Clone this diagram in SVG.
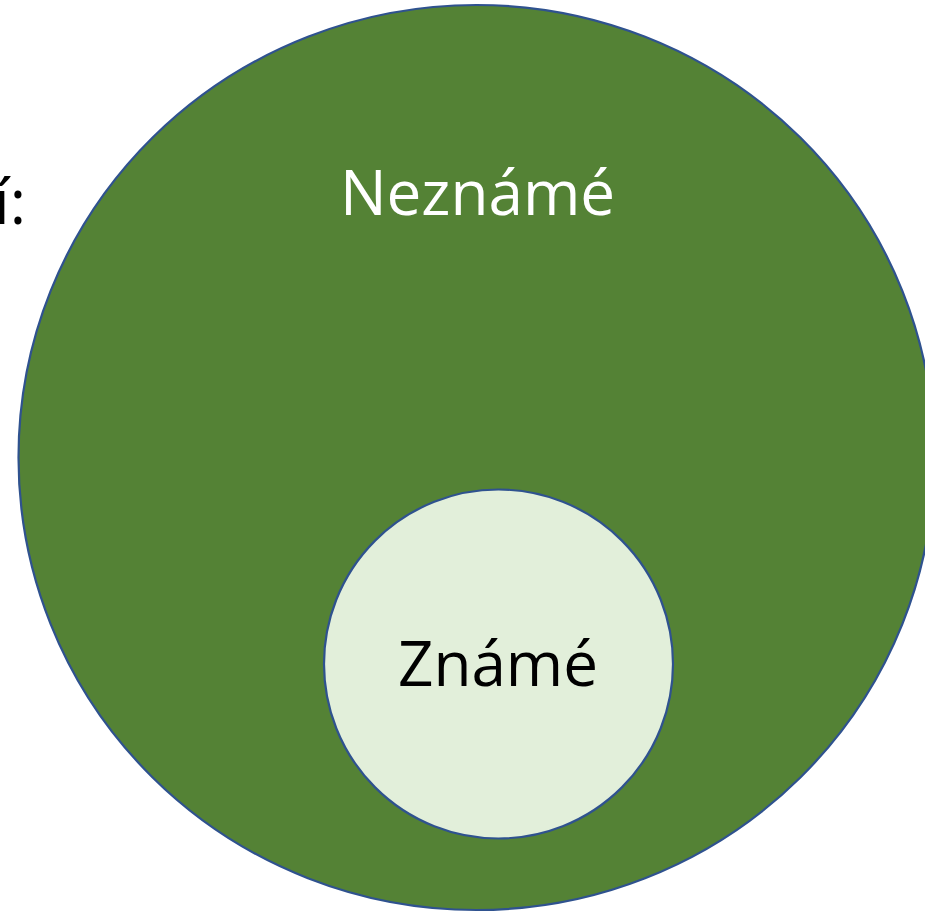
<svg xmlns="http://www.w3.org/2000/svg" width="925" height="912" viewBox="0 0 925 912">
<style>
.lbl{font-family:"Open Sans","Noto Sans","Liberation Sans",sans-serif;font-size:62px}
.ring{stroke:#2F528F;stroke-width:2.2}
</style>
<rect width="925" height="912" fill="#ffffff"/>
<text class="lbl" x="26" y="224" text-anchor="end" fill="#000000">í:</text>
<g id="nezname">
<ellipse class="ring" cx="476.5" cy="457.5" rx="458" ry="452.5" fill="#548235"/>
<text class="lbl" x="477.5" y="215" text-anchor="middle" fill="#ffffff">Neznámé</text>
</g>
<g id="zname">
<circle class="ring" cx="498.5" cy="664" r="174.5" fill="#E2EFDA"/>
<text class="lbl" x="498" y="686" text-anchor="middle" fill="#000000">Známé</text>
</g>
</svg>
